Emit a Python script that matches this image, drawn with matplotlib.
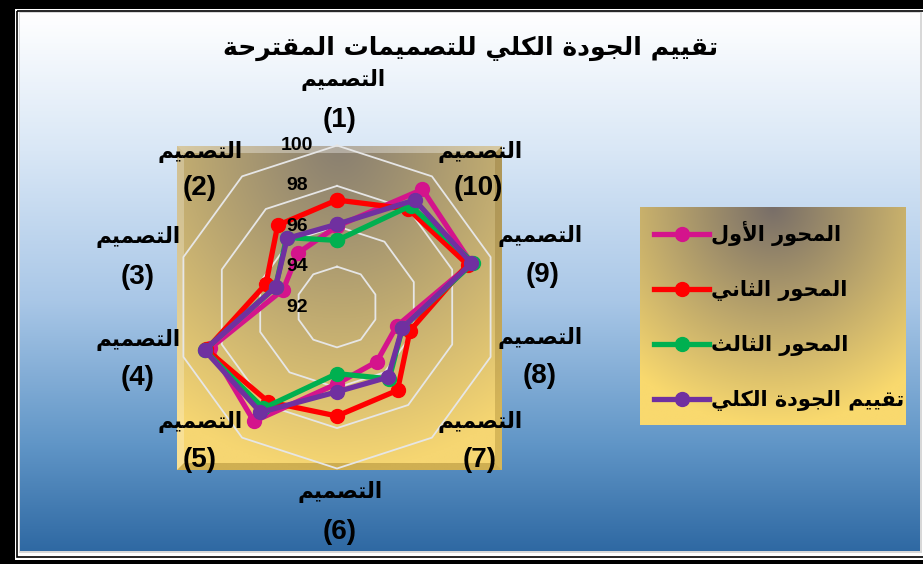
import numpy as np
import matplotlib
matplotlib.use('Agg')
import matplotlib.pyplot as plt
from matplotlib.patches import Rectangle, Polygon
from matplotlib.colors import to_rgb
import matplotlib.transforms as mtransforms

# ---------------- data ----------------
title_text = "تقييم الجودة الكلي للتصميمات المقترحة"
category_word = "التصميم"
category_nums = ["(1)", "(2)", "(3)", "(4)", "(5)", "(6)", "(7)", "(8)", "(9)", "(10)"]
series_names = ["المحور الأول", "المحور الثاني", "المحور الثالث", "تقييم الجودة الكلي"]
axis1 = [96.0, 95.3, 94.8, 98.6, 99.0, 95.8, 95.35, 95.1, 99.0, 99.2]
axis2 = [97.3, 97.0, 95.7, 98.8, 97.8, 97.4, 97.1, 95.8, 98.8, 98.0]
axis3 = [95.3, 96.25, 95.2, 98.9, 98.2, 95.3, 96.4, 95.4, 99.1, 98.2]
overall = [96.1, 96.2, 95.2, 98.9, 98.45, 96.2, 96.3, 95.4, 99.0, 98.55]
r_ticks = [92, 94, 96, 98, 100]

series_values = [axis1, axis2, axis3, overall]
series_colors = ["#d4148c", "#ff0000", "#00b050", "#7030a0"]

# ------------- minimal Arabic shaping (matplotlib has no bidi/shaping) -------------
FORMS = {
    '\u0627': ('\uFE8D', '\uFE8E', None, None),
    '\u0623': ('\uFE83', '\uFE84', None, None),
    '\u0629': ('\uFE93', '\uFE94', None, None),
    '\u062A': ('\uFE95', '\uFE96', '\uFE97', '\uFE98'),
    '\u062B': ('\uFE99', '\uFE9A', '\uFE9B', '\uFE9C'),
    '\u062C': ('\uFE9D', '\uFE9E', '\uFE9F', '\uFEA0'),
    '\u062D': ('\uFEA1', '\uFEA2', '\uFEA3', '\uFEA4'),
    '\u062F': ('\uFEA9', '\uFEAA', None, None),
    '\u0631': ('\uFEAD', '\uFEAE', None, None),
    '\u0635': ('\uFEB9', '\uFEBA', '\uFEBB', '\uFEBC'),
    '\u0642': ('\uFED5', '\uFED6', '\uFED7', '\uFED8'),
    '\u0643': ('\uFED9', '\uFEDA', '\uFEDB', '\uFEDC'),
    '\u0644': ('\uFEDD', '\uFEDE', '\uFEDF', '\uFEE0'),
    '\u0645': ('\uFEE1', '\uFEE2', '\uFEE3', '\uFEE4'),
    '\u0646': ('\uFEE5', '\uFEE6', '\uFEE7', '\uFEE8'),
    '\u0648': ('\uFEED', '\uFEEE', None, None),
    '\u064A': ('\uFEF1', '\uFEF2', '\uFEF3', '\uFEF4'),
    'LA': ('\uFEFB', '\uFEFC', None, None),
    'LAH': ('\uFEF7', '\uFEF8', None, None),
}


def shape(text):
    chars = list(text)
    units = []
    i = 0
    while i < len(chars):
        c = chars[i]
        if c == '\u0644' and i + 1 < len(chars) and chars[i + 1] in ('\u0627', '\u0623'):
            units.append('LA' if chars[i + 1] == '\u0627' else 'LAH')
            i += 2
        else:
            units.append(c)
            i += 1
    out = []
    for j, u in enumerate(units):
        if u not in FORMS:
            out.append(u)
            continue
        f = FORMS[u]
        prev = units[j - 1] if j > 0 else None
        nxt = units[j + 1] if j + 1 < len(units) else None
        jp = prev in FORMS and FORMS[prev][2] is not None
        jn = f[2] is not None and nxt in FORMS
        if jp and jn:
            out.append(f[3])
        elif jp:
            out.append(f[1])
        elif jn:
            out.append(f[2])
        else:
            out.append(f[0])
    return ''.join(reversed(out))


AR_FONT = ['DejaVu Sans']
NUM_FONT = ['Liberation Sans', 'DejaVu Sans']

# ---------------- figure ----------------
W, H = 923, 564
fig = plt.figure(figsize=(W / 100, H / 100), dpi=100, facecolor='black')

bg = fig.add_axes([0, 0, 1, 1])
bg.set_xlim(0, W)
bg.set_ylim(H, 0)
bg.axis('off')


def vgrad(stops, n=256):
    pos = np.array([s[0] for s in stops])
    cols = np.array([to_rgb(s[1]) for s in stops])
    t = np.linspace(0, 1, n)
    arr = np.stack([np.interp(t, pos, cols[:, k]) for k in range(3)], axis=-1)
    return arr[:, None, :]


def radial_panel(c_top, c_edge, nx=200, ny=200, sx=0.85, gamma=1.0):
    xs = np.linspace(0, 1, nx)
    ys = np.linspace(0, 1, ny)
    X, Y = np.meshgrid(xs, ys)
    t = np.clip(np.sqrt(((X - 0.5) / sx) ** 2 + Y ** 2), 0, 1) ** gamma
    a = np.array(to_rgb(c_top))
    b = np.array(to_rgb(c_edge))
    return a[None, None, :] * (1 - t[..., None]) + b[None, None, :] * t[..., None]


# frame lines
bg.add_patch(Rectangle((15, 8.5), W - 15, 551, facecolor='white', edgecolor='none', zorder=0))
bg.add_patch(Rectangle((17.2, 10.8), W, 546, facecolor='none', edgecolor='black', lw=1.2, zorder=1))
bg.add_patch(Rectangle((18.5, 12.2), 903, 541, facecolor='#d8d8d8', edgecolor='none', zorder=1))
# blue gradient background
bg.imshow(vgrad([(0, '#ffffff'), (0.255, '#d9e7f6'), (0.535, '#a9c7e7'),
                 (0.80, '#6196c7'), (1.0, '#2f69a3')]),
          extent=(20, 920, 551, 13.5), aspect='auto', zorder=2, interpolation='bilinear')

# gold plot area with bevel
gx0, gy0, gx1, gy1 = 177, 146, 502, 470
bg.imshow(radial_panel('#8a8070', '#f6d672', sx=0.9, gamma=1.1),
          extent=(gx0, gx1, gy1, gy0), aspect='auto', zorder=3, interpolation='bilinear')
bw = 7
bg.add_patch(Polygon([(gx0, gy0), (gx1, gy0), (gx1 - bw, gy0 + bw), (gx0 + bw, gy0 + bw)],
                     closed=True, facecolor='white', alpha=0.35, edgecolor='none', zorder=4))
bg.add_patch(Polygon([(gx0, gy0), (gx0 + bw, gy0 + bw), (gx0 + bw, gy1 - bw), (gx0, gy1)],
                     closed=True, facecolor='white', alpha=0.25, edgecolor='none', zorder=4))
bg.add_patch(Polygon([(gx1, gy0), (gx1, gy1), (gx1 - bw, gy1 - bw), (gx1 - bw, gy0 + bw)],
                     closed=True, facecolor='#6b4a00', alpha=0.22, edgecolor='none', zorder=4))
bg.add_patch(Polygon([(gx0, gy1), (gx1, gy1), (gx1 - bw, gy1 - bw), (gx0 + bw, gy1 - bw)],
                     closed=True, facecolor='#6b4a00', alpha=0.28, edgecolor='none', zorder=4))

# legend panel
lx0, ly0, lx1, ly1 = 640, 207, 906, 425
bg.imshow(radial_panel('#786e68', '#f9d96e', sx=0.8, gamma=1.0),
          extent=(lx0, lx1, ly1, ly0), aspect='auto', zorder=3, interpolation='bilinear')

# ---------------- radar ----------------
cx, cy, R = 337, 307, 161.5
ax = fig.add_axes([(cx - R) / W, (H - cy - R) / H, 2 * R / W, 2 * R / H], projection='polar')
ax.set_theta_zero_location('N')
ax.set_theta_direction(1)
ax.set_ylim(r_ticks[0], r_ticks[-1])
ax.grid(False)
ax.set_xticks([])
ax.set_yticks([])
ax.spines['polar'].set_visible(False)
ax.patch.set_alpha(0)

n = len(category_nums)
angles = np.linspace(0, 2 * np.pi, n, endpoint=False)
ang_c = np.append(angles, angles[0])

for v in r_ticks[1:]:
    ax.plot(ang_c, [v] * (n + 1), color='#e6e6e6', lw=1.3, zorder=1, clip_on=False)

handles = []
for vals, col, name in zip(series_values, series_colors, series_names):
    vv = np.append(vals, vals[0])
    ln, = ax.plot(ang_c, vv, color=col, lw=3.8, marker='o', markersize=10,
                  markeredgecolor=col, zorder=3, clip_on=False, solid_joinstyle='round')
    handles.append(ln)

off = mtransforms.offset_copy(ax.transData, fig=fig, x=-40, y=0, units='dots')
for v in r_ticks:
    ax.text(0, v, str(v), transform=off, ha='center', va='center', fontsize=14,
            fontweight='bold', family=NUM_FONT, zorder=5)

# category labels (pixel positions of label centres)
word_pos = [(343, 80), (200, 152), (138, 237), (138, 340), (200, 422),
            (340, 492), (480, 422), (540, 338), (540, 236), (480, 152)]
num_pos = [(340, 120), (200, 188), (138, 277), (138, 378), (200, 460),
           (340, 532), (480, 460), (540, 376), (543, 275), (478, 188)]
for (wx, wy), (nx_, ny_), lab in zip(word_pos, num_pos, category_nums):
    fig.text(wx / W, 1 - wy / H, shape(category_word), ha='center', va='center',
             fontsize=15.5, fontweight='bold', family=AR_FONT, zorder=10)
    fig.text(nx_ / W, 1 - ny_ / H, lab, ha='center', va='center',
             fontsize=20, fontweight='bold', family=NUM_FONT, zorder=10)

fig.text(471 / W, 1 - 48 / H, shape(title_text), ha='center', va='center',
         fontsize=18, fontweight='bold', family=AR_FONT, zorder=10)

leg = ax.legend(handles, [shape(s) for s in series_names], loc='upper left',
                bbox_to_anchor=(644 / W, 1 - 211 / H), bbox_transform=fig.transFigure,
                frameon=False, prop={'family': AR_FONT, 'weight': 'bold', 'size': 15},
                handlelength=2.6, handletextpad=0.1, labelspacing=1.63, borderpad=0)
leg.set_zorder(20)

fig.savefig('out.png', dpi=100, facecolor='black')
